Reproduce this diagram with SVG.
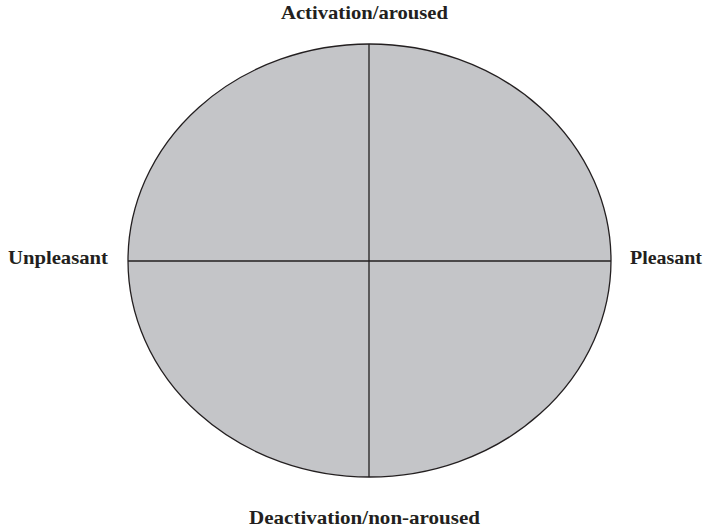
<svg xmlns="http://www.w3.org/2000/svg" width="706" height="528" viewBox="0 0 706 528">
  <style>
    .lbl { font-family: "Liberation Serif", "Times New Roman", serif; font-weight: bold; font-size: 19px; fill: #231f20; }
    .axis { stroke: #231f20; stroke-width: 1.3; fill: none; }
  </style>
  <rect width="706" height="528" fill="#ffffff"/>
  <g id="circumplex">
    <ellipse cx="369.5" cy="260.5" rx="241.5" ry="216.5" fill="#c4c5c8" stroke="#231f20" stroke-width="1.3"/>
  </g>
  <g id="axes">
    <line class="axis" x1="369" y1="44" x2="369" y2="477"/>
    <line class="axis" x1="128" y1="261" x2="611" y2="261"/>
  </g>
  <g id="label-top"><text class="lbl" x="281" y="19" textLength="167" lengthAdjust="spacingAndGlyphs">Activation/aroused</text></g>
  <g id="label-left"><text class="lbl" x="8" y="264" textLength="100" lengthAdjust="spacingAndGlyphs">Unpleasant</text></g>
  <g id="label-right"><text class="lbl" x="630" y="263.5" textLength="72" lengthAdjust="spacingAndGlyphs">Pleasant</text></g>
  <g id="label-bottom"><text class="lbl" x="249" y="524" textLength="231" lengthAdjust="spacingAndGlyphs">Deactivation/non-aroused</text></g>
</svg>
